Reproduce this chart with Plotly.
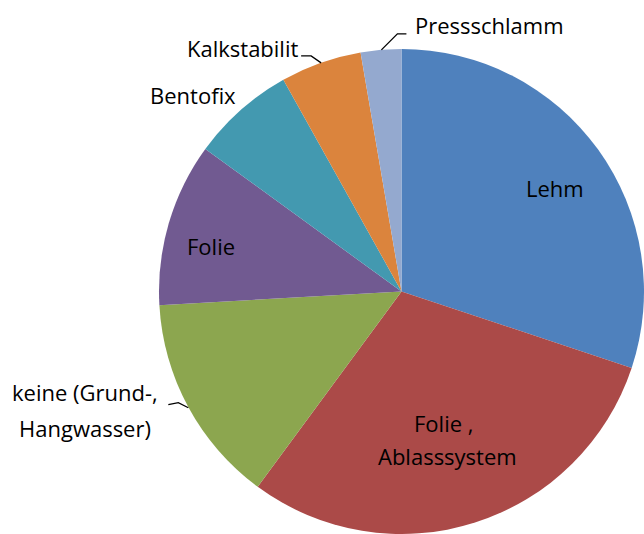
import math
import plotly.graph_objects as go

# ---- data ----
labels = ["Lehm", "Folie , Ablasssystem", "keine (Grund-, Hangwasser)", "Folie",
          "Bentofix", "Kalkstabilit", "Pressschlamm"]
values = [30.1, 30.0, 14.0, 10.9, 6.9, 5.4, 2.7]
colors = ["#4F81BD", "#AB4A48", "#8CA64F", "#715A91", "#4399B0", "#DB843D", "#94A9CF"]

# ---- layout (screen pixels) ----
W, H = 644, 534
CX, CY, R = 402, 292, 243
FONT = dict(family="'Open Sans', sans-serif", size=22, color="#000000")

# label text lines: (label index, [(text, x_px, y_px, xanchor)])
label_lines = {
    0: [("Lehm", 555, 188, "center")],
    1: [("Folie ,", 443, 423, "center"), ("Ablasssystem", 447, 456, "center")],
    2: [("keine (Grund-,", 10, 392, "left"), ("Hangwasser)", 17, 428, "left")],
    3: [("Folie", 211, 246, "center")],
    4: [("Bentofix", 193, 95, "center")],
    5: [("Kalkstabilit", 242, 48, "center")],
    6: [("Pressschlamm", 413, 25, "left")],
}
# leader lines: label index -> (elbow offset from edge, end offset from elbow) in px
leaders = {
    6: ((16, -16), (9, 0)),
    5: ((-10, -7), (-10, 0)),
    2: ((-10, -5), (-10, 2)),
}


def px_to_paper(x, y):
    return x / W, 1 - y / H


x_lo, y_hi = px_to_paper(CX - R, CY - R)
x_hi, y_lo = px_to_paper(CX + R, CY + R)
x_hi, y_lo = min(x_hi, 1.0), max(y_lo, 0.0)

fig = go.Figure(go.Pie(
    labels=labels, values=values, sort=False, direction="clockwise", rotation=0,
    marker=dict(colors=colors, line=dict(width=0)),
    textinfo="none", hoverinfo="label+percent", showlegend=False,
    domain=dict(x=[x_lo, x_hi], y=[y_lo, y_hi]),
))

annotations = []
for i, lines in label_lines.items():
    for text, x, y, xa in lines:
        px, py = px_to_paper(x, y)
        annotations.append(dict(x=px, y=py, xref="paper", yref="paper", text=text,
                                showarrow=False, xanchor=xa, yanchor="middle", font=FONT))

total = sum(values)
cum = 0
mids = []
for v in values:
    mids.append((cum + v / 2) / total * 2 * math.pi)
    cum += v

shapes = []
for i, ((ex, ey), (fx, fy)) in leaders.items():
    a = mids[i]
    x0 = CX + R * math.sin(a)
    y0 = CY - R * math.cos(a)
    x1, y1 = x0 + ex, y0 + ey
    x2, y2 = x1 + fx, y1 + fy
    pts = [px_to_paper(x0, y0), px_to_paper(x1, y1), px_to_paper(x2, y2)]
    path = "M {} {} L {} {} L {} {}".format(*[c for p in pts for c in p])
    shapes.append(dict(type="path", path=path, xref="paper", yref="paper",
                       line=dict(color="#000000", width=1.3)))

fig.update_layout(
    width=W, height=H, margin=dict(l=0, r=0, t=0, b=0),
    paper_bgcolor="white", plot_bgcolor="white",
    annotations=annotations, shapes=shapes,
)
fig.write_html(
    "out.html",
    config={"displayModeBar": False},
    post_script="document.body.style.margin='0';document.body.style.overflow='hidden';",
)
